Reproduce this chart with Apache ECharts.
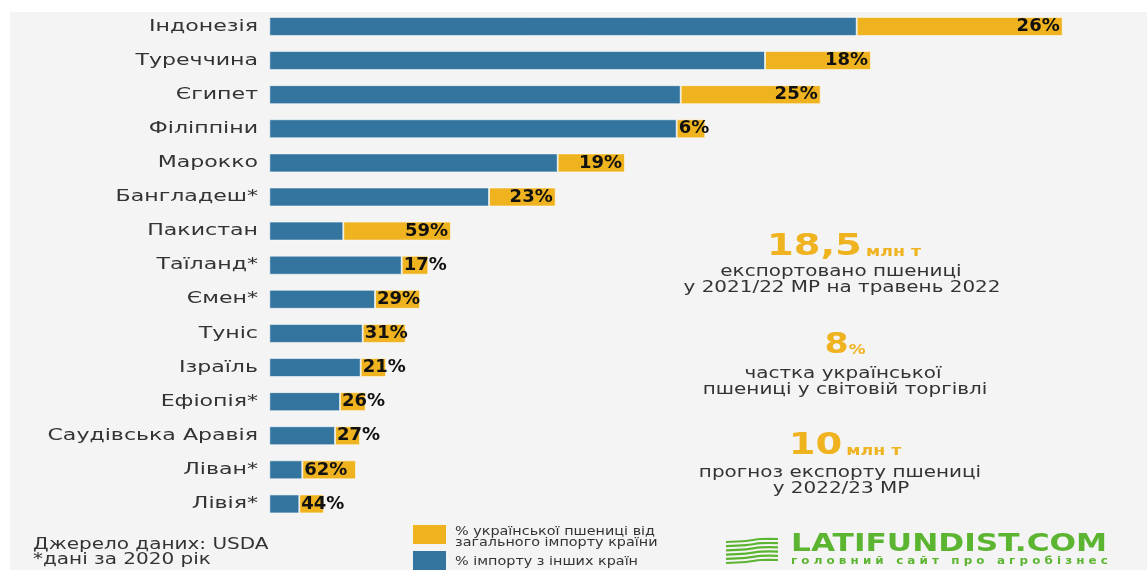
<!DOCTYPE html>
<html>
<head>
<meta charset="utf-8">
<script src="https://cdn.jsdelivr.net/npm/echarts@6/dist/echarts.min.js"></script>
<style>
html,body{margin:0;padding:0;background:#ffffff;}
#chart{width:1147px;height:570px;}
</style>
</head>
<body>
<div id="chart"></div>
<script>
// Categories (top to bottom)
const countries = ['Індонезія','Туреччина','Єгипет','Філіппіни','Марокко','Бангладеш*','Пакистан','Таїланд*','Ємен*','Туніс','Ізраїль','Ефіопія*','Саудівська Аравія','Ліван*','Лівія*'];
// Import volume from other countries (relative units)
const otherImports = [587.4, 495.7, 411.4, 407.4, 288.4, 219.7, 74.0, 132.4, 105.7, 93.4, 91.4, 70.7, 65.7, 33.0, 30.0];
// Import volume of Ukrainian wheat (relative units)
const ukrImports = [206.0, 106.0, 140.0, 28.6, 67.3, 66.7, 107.7, 26.6, 45.0, 43.0, 25.3, 25.7, 25.0, 53.7, 24.7];
// Printed share labels
const ukrShareLabels = ['26%','18%','25%','6%','19%','23%','59%','17%','29%','31%','21%','26%','27%','62%','44%'];
// Legend texts
const legendUkr = ['% української пшениці від', 'загального імпорту країни'];
const legendOther = '% імпорту з інших країн';

const BLUE = '#33759e';
const YELLOW = '#efb320';
const TEXT = '#333333';
const FONT = 'DejaVu Sans';

const chart = echarts.init(document.getElementById('chart'), null, {renderer:'canvas'});

const ukrData = ukrImports.map((v, i) => ({
  value: v,
  label: {
    position: v > 55 ? 'insideRight' : 'insideLeft',
    distance: v > 55 ? 3 : 2
  }
}));

function logoStripes(){
  const els = [];
  const x0 = 726, y0 = 540;
  for (let k = 0; k < 6; k++) {
    const y = y0 + k * 4.2;
    els.push({
      type: 'polyline',
      shape: { points: [[x0, y + 2], [x0 + 20, y + 1], [x0 + 35, y - 1], [x0 + 52, y - 1]], smooth: 0.4 },
      style: { stroke: '#5cb531', lineWidth: 2.2, fill: null }
    });
  }
  return els;
}

function txt(x, y, text, size, sx, align, extra){
  return { type: 'text', x: x, y: y, scaleX: sx, style: Object.assign({
    text: text, fill: TEXT, fontSize: size, fontFamily: FONT,
    textAlign: align || 'left', textVerticalAlign: 'middle' }, extra || {}) };
}

const option = {
  backgroundColor: '#ffffff',
  animation: false,
  textStyle: { fontFamily: FONT },
  grid: { left: 269.3, top: 9.4, width: 800, bottom: 49, containLabel: false },
  xAxis: { type: 'value', min: 0, max: 800, show: false },
  yAxis: {
    type: 'category', data: countries, inverse: true,
    axisLine: { show: false }, axisTick: { show: false },
    axisLabel: { show: false }
  },
  series: [
    {
      name: legendOther, type: 'bar', stack: 'total', data: otherImports,
      barWidth: 19,
      itemStyle: { color: BLUE, borderColor: 'rgba(255,255,255,0.55)', borderWidth: 1 }
    },
    {
      name: legendUkr.join(' '), type: 'bar', stack: 'total', data: ukrData,
      barWidth: 19,
      itemStyle: { color: YELLOW, borderColor: 'rgba(255,255,255,0.55)', borderWidth: 1 },
      label: {
        show: true,
        formatter: p => ukrShareLabels[p.dataIndex],
        color: '#111111', fontWeight: 'bold', fontSize: 18, fontFamily: FONT
      }
    }
  ]
};
chart.setOption(option);

// Category labels positioned through the category axis scale (stretched like the original artwork)
const catLabels = countries.map((c, i) => {
  const y = chart.convertToPixel({ yAxisIndex: 0 }, i);
  return txt(258, y, c, 16, 1.38, 'right');
});

const bigRich = (size) => ({
  b: { fontSize: size, fontWeight: 'bold', fill: YELLOW, fontFamily: FONT },
  s: { fontSize: 14, fontWeight: 'bold', fill: YELLOW, fontFamily: FONT, verticalAlign: 'bottom', padding: [0,0,3,0] }
});

const graphics = [
  { type: 'rect', z: -10, silent: true, shape: { x: 10, y: 12, width: 1137, height: 558 }, style: { fill: '#f4f4f4' } },
  ...catLabels,
  // Fact 1
  { type: 'text', x: 844, y: 262, scaleX: 1.24, style: { text: '{b|18,5} {s|млн т}', textAlign: 'center', textVerticalAlign: 'bottom', rich: bigRich(31) } },
  txt(841, 272, 'експортовано пшениці', 15, 1.33, 'center'),
  txt(842, 288, 'у 2021/22 МР на травень 2022', 15, 1.33, 'center'),
  // Fact 2
  { type: 'text', x: 845, y: 360, scaleX: 1.2, style: { text: '{b|8}{s|%}', textAlign: 'center', textVerticalAlign: 'bottom', rich: bigRich(29) } },
  txt(843, 374, 'частка української', 15, 1.33, 'center'),
  txt(845, 390, 'пшениці у світовій торгівлі', 15, 1.33, 'center'),
  // Fact 3
  { type: 'text', x: 845, y: 461, scaleX: 1.24, style: { text: '{b|10} {s|млн т}', textAlign: 'center', textVerticalAlign: 'bottom', rich: bigRich(31) } },
  txt(840, 473, 'прогноз експорту пшениці', 15, 1.33, 'center'),
  txt(841, 489, 'у 2022/23 МР', 15, 1.33, 'center'),
  // Source
  txt(33, 545, 'Джерело даних: USDA', 16, 1.25),
  txt(33, 560, '*дані за 2020 рік', 16, 1.25),
  // Legend
  { type: 'rect', shape: { x: 413, y: 525, width: 33, height: 19 }, style: { fill: YELLOW } },
  { type: 'rect', shape: { x: 413, y: 551, width: 33, height: 19 }, style: { fill: BLUE } },
  txt(455, 532, legendUkr[0], 12.5, 1.15),
  txt(455, 543, legendUkr[1], 12.5, 1.15),
  txt(455, 562, legendOther, 12.5, 1.15),
  // Logo
  ...logoStripes(),
  txt(791, 545, 'LATIFUNDIST.COM', 24, 1.3, 'left', { fill: '#5cb531', fontWeight: 'bold' }),
  txt(791, 561, 'г о л о в н и й   с а й т   п р о   а г р о б і з н е с', 10, 1.19, 'left', { fill: '#5cb531', fontWeight: 'bold' })
];
chart.setOption({ graphic: graphics });
</script>
</body>
</html>
